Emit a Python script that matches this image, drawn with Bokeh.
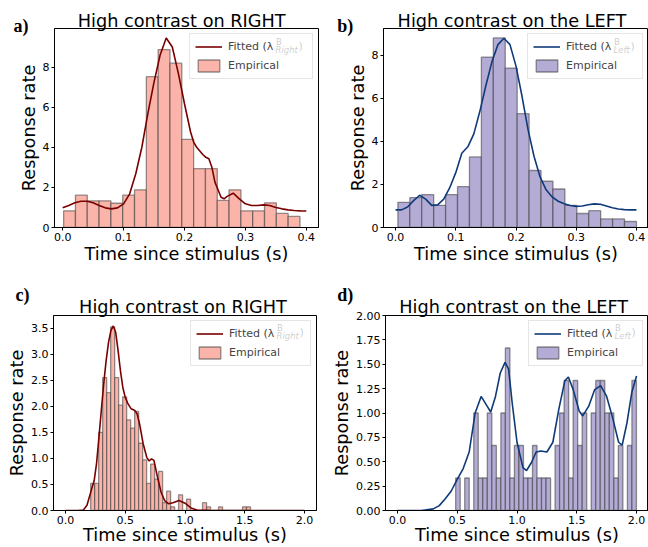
import numpy as np
from bokeh.plotting import figure
from bokeh.layouts import column, row
from bokeh.models import Legend, LegendItem, Label, FixedTicker, Range1d
from bokeh.embed import file_html
from bokeh.resources import INLINE

# ---------------- data ----------------
titles = ["High contrast on RIGHT", "High contrast on the LEFT",
          "High contrast on RIGHT", "High contrast on the LEFT"]
panel_letters = ["a)", "b)", "c)", "d)"]
fit_subscripts = ["Right", "Left", "Right", "Left"]

# panel a
a_bin_range = (0.0016, 0.3896)
a_rates = [0.83, 1.61, 1.33, 1.33, 1.21, 1.61, 1.88, 7.52, 8.87, 8.19,
           4.39, 2.93, 2.93, 1.35, 1.88, 0.83, 0.83, 1.23, 0.70, 0.55]
a_fit_t = [0.0, 0.01, 0.02, 0.03, 0.04, 0.05, 0.06, 0.07, 0.08, 0.09, 0.10,
           0.11, 0.12, 0.13, 0.14, 0.15, 0.16, 0.17, 0.18, 0.19, 0.20, 0.21,
           0.215, 0.22, 0.23, 0.235, 0.24, 0.245, 0.25, 0.26, 0.265, 0.27,
           0.28, 0.29, 0.30, 0.31, 0.32, 0.33, 0.34, 0.35, 0.36, 0.37, 0.38,
           0.39, 0.40]
a_fit_rate = [0.98, 1.10, 1.23, 1.31, 1.31, 1.23, 1.10, 0.98, 0.93, 0.98, 1.18,
              1.68, 2.68, 4.00, 5.70, 7.25, 8.60, 9.45, 9.00, 7.67, 6.17, 4.76,
              4.26, 4.00, 3.64, 3.50, 3.43, 3.00, 2.26, 1.51, 1.43, 1.55,
              1.71, 1.43, 1.18, 1.10, 1.10, 1.13, 1.10, 1.00, 0.93, 0.88, 0.85,
              0.83, 0.82]

# panel b
b_bin_range = (0.0039, 0.40)
b_rates = [1.17, 1.39, 1.53, 1.03, 1.53, 1.90, 3.28, 7.92, 8.81, 7.41,
           5.29, 2.65, 2.15, 1.79, 1.03, 0.65, 0.78, 0.40, 0.40, 0.28]
b_fit_t = [0.0, 0.01, 0.02, 0.03, 0.04, 0.05, 0.06, 0.07, 0.08, 0.09, 0.10,
           0.11, 0.12, 0.13, 0.14, 0.15, 0.16, 0.17, 0.18, 0.19, 0.20, 0.21,
           0.22, 0.23, 0.24, 0.25, 0.26, 0.27, 0.28, 0.29, 0.30, 0.31, 0.32,
           0.33, 0.34, 0.35, 0.36, 0.37, 0.38, 0.39, 0.40]
b_fit_rate = [0.82, 0.82, 0.95, 1.25, 1.50, 1.32, 1.03, 1.05, 1.32, 1.85, 2.55,
              3.45, 3.75, 4.35, 5.40, 6.60, 7.70, 8.50, 8.80, 8.50, 7.50, 6.10,
              4.55, 3.30, 2.35, 1.75, 1.42, 1.22, 1.10, 1.02, 0.98, 1.00, 1.06,
              1.10, 1.08, 1.00, 0.92, 0.86, 0.83, 0.82, 0.82]

# panel c
c_bin_range = (0.211, 1.548)
c_rates = [0.52, 0.52, 1.50, 2.55, 2.26, 3.52, 2.55, 2.02, 2.18, 1.74,
           1.58, 1.90, 1.29, 0.97, 0.52, 0.89, 0.60, 0.75, 0.15, 0.37,
           0.07, 0.00, 0.30, 0.00, 0.22, 0.00, 0.00, 0.00, 0.15, 0.07,
           0.00, 0.00, 0.07, 0.00, 0.00, 0.00, 0.00, 0.00, 0.07, 0.07]
c_fit_t = [0.0, 0.10, 0.15, 0.18, 0.20, 0.22, 0.24, 0.26, 0.28, 0.30, 0.32,
           0.34, 0.36, 0.38, 0.40, 0.42, 0.44, 0.46, 0.48, 0.50, 0.52, 0.55,
           0.58, 0.60, 0.62, 0.65, 0.68, 0.70, 0.72, 0.74, 0.77, 0.80, 0.83,
           0.86, 0.90, 0.95, 1.00, 1.05, 1.10, 1.20, 1.40, 1.60, 1.80, 2.00]
c_fit_rate = [0.0, 0.0, 0.01, 0.10, 0.26, 0.42, 0.57, 0.90, 1.40, 1.92, 2.43,
              2.87, 3.22, 3.45, 3.54, 3.42, 3.07, 2.68, 2.36, 2.17, 2.06, 1.95,
              1.92, 1.85, 1.66, 1.28, 1.02, 0.95, 0.99, 0.96, 0.64, 0.35, 0.19,
              0.13, 0.15, 0.19, 0.14, 0.05, 0.01, 0.005, 0.0, 0.0, 0.0, 0.0]

# panel d
d_bin_range = (0.487, 1.999)
d_rates = [1/3, 0, 1/3, 0, 1.0, 1/3, 1/3, 1.0, 2/3, 1/3,
           1.0, 5/3, 1/3, 2/3, 2/3, 1/3, 1/3, 2/3, 1/3, 1/3,
           1/3, 0, 2/3, 1.0, 4/3, 1/3, 4/3, 2/3, 1.0, 0,
           1.0, 4/3, 4/3, 1.0, 1.0, 1/3, 2/3, 0, 2/3, 4/3]
d_fit_t = [0.0, 0.20, 0.30, 0.35, 0.40, 0.45, 0.50, 0.55, 0.60, 0.65, 0.70,
           0.75, 0.78, 0.82, 0.86, 0.90, 0.93, 0.96, 1.00, 1.05, 1.08, 1.12,
           1.16, 1.20, 1.25, 1.30, 1.35, 1.40, 1.43, 1.47, 1.52, 1.55, 1.60,
           1.65, 1.70, 1.75, 1.80, 1.85, 1.88, 1.92, 1.96, 2.00]
d_fit_rate = [0.0, 0.0, 0.017, 0.05, 0.12, 0.20, 0.32, 0.43, 0.60, 1.00, 1.17,
              1.07, 1.01, 1.17, 1.41, 1.52, 1.45, 1.10, 0.70, 0.44, 0.41, 0.49,
              0.60, 0.61, 0.60, 0.70, 1.04, 1.33, 1.37, 1.24, 1.02, 0.97, 1.07,
              1.24, 1.28, 1.17, 0.95, 0.70, 0.67, 0.90, 1.21, 1.38]

# axis ticks and labels
x_ticks_short = [0.0, 0.1, 0.2, 0.3, 0.4]
x_labels_short = ["0.0", "0.1", "0.2", "0.3", "0.4"]
x_ticks_long = [0.0, 0.5, 1.0, 1.5, 2.0]
x_labels_long = ["0.0", "0.5", "1.0", "1.5", "2.0"]
y_ticks_ab = [0, 2, 4, 6, 8]
y_labels_ab = ["0", "2", "4", "6", "8"]
y_ticks_c = [0.0, 0.5, 1.0, 1.5, 2.0, 2.5, 3.0, 3.5]
y_labels_c = ["0.0", "0.5", "1.0", "1.5", "2.0", "2.5", "3.0", "3.5"]
y_ticks_d = [0.0, 0.25, 0.5, 0.75, 1.0, 1.25, 1.5, 1.75, 2.0]
y_labels_d = ["0.00", "0.25", "0.50", "0.75", "1.00", "1.25", "1.50", "1.75", "2.00"]

x_label = "Time since stimulus (s)"
y_label = "Response rate"

# ---------------- styling ----------------
RED_FILL = "#fbb4a9"
RED_LINE = "#7a0000"
BLUE_FILL = "#b4acd5"
BLUE_LINE = "#0f3a78"
FONT = "DejaVu Sans"


def make_panel(idx, bin_range, rates, fit_t, fit_rate, xr, yr, xt, xl, yt, yl,
               fill, curve, size, borders, fw, fh, label_w, title_pos,
               letter_pos, letter_side, xlabel_standoff):
    W, H = size
    bl, br, bt, bb = borders
    p = figure(width=W, height=H, min_border_left=bl,
               min_border_right=br, min_border_top=bt, min_border_bottom=bb,
               x_range=Range1d(*xr), y_range=Range1d(*yr),
               output_backend="svg", toolbar_location=None)

    edges = np.linspace(bin_range[0], bin_range[1], len(rates) + 1)
    r_hist = p.quad(left=edges[:-1], right=edges[1:], top=rates, bottom=0,
                    fill_color=fill, fill_alpha=1.0, line_color="#3c3c3c",
                    line_alpha=0.55, line_width=1.3)
    r_fit = p.line(fit_t, fit_rate, line_color=curve, line_width=1.6)

    p.xgrid.visible = False
    p.ygrid.visible = False
    p.outline_line_color = "black"
    p.outline_line_width = 1
    p.outline_line_alpha = 1

    for ax, ticks, labels in ((p.xaxis[0], xt, xl), (p.yaxis[0], yt, yl)):
        ax.ticker = FixedTicker(ticks=ticks)
        ax.major_label_overrides = {t: s for t, s in zip(ticks, labels)}
        ax.minor_tick_line_color = None
        ax.major_tick_in = 0
        ax.major_tick_out = 3
        ax.major_tick_line_color = "black"
        ax.axis_line_color = "black"
        ax.major_label_text_font = FONT
        ax.major_label_text_font_size = "11px"
        ax.major_label_text_color = "black"
        ax.major_label_standoff = 2
        ax.axis_label_text_font = FONT
        ax.axis_label_text_font_size = "17.7px"
        ax.axis_label_text_font_style = "normal"
        ax.axis_label_text_color = "black"
    p.xaxis.axis_label = x_label
    p.yaxis.axis_label = y_label
    p.xaxis.axis_label_standoff = xlabel_standoff
    p.yaxis.axis_label_standoff = 1

    # title (side-panel label, absolute canvas position)
    p.add_layout(Label(x=title_pos[0], y=title_pos[1], x_units="canvas",
                       y_units="canvas", text=titles[idx], text_font=FONT,
                       text_font_size="17.7px", text_align="center",
                       text_baseline="alphabetic", text_color="black"), "above")
    # panel letter
    p.add_layout(Label(x=letter_pos[0], y=letter_pos[1], x_units="canvas",
                       y_units="canvas", text=panel_letters[idx],
                       text_font="Liberation Serif", text_font_style="bold",
                       text_font_size="18px", text_baseline="alphabetic",
                       text_color="black"), letter_side)

    # legend
    margin, pad, gw, gh, lh, stand, spacing = 5, 5, 27, 15, 15, 6, 4
    leg = Legend(items=[LegendItem(label="Fitted (λ", renderers=[r_fit]),
                        LegendItem(label="Empirical", renderers=[r_hist])],
                 location="top_right", margin=margin, padding=pad,
                 spacing=spacing, glyph_width=gw, glyph_height=gh,
                 label_height=lh, label_width=label_w, label_standoff=stand,
                 label_text_font=FONT, label_text_font_size="11px",
                 border_line_color="#cccccc", border_line_width=1,
                 background_fill_color="white", background_fill_alpha=0.8,
                 level="annotation")
    p.add_layout(leg)

    # super/subscript of the fitted label (frame-relative screen units)
    leg_w = 2 * pad + gw + stand + label_w
    text_x = (fw - margin) - leg_w + pad + gw + stand
    row_y = fh - (margin + pad + lh / 2)
    w_fit = 46
    sub = fit_subscripts[idx]
    sub_w = 22 if sub == "Right" else 16
    p.add_layout(Label(x=text_x + w_fit + 0.5, y=row_y + 4, x_units="screen",
                       y_units="screen", text="B", text_font=FONT,
                       text_font_size="8.5px", text_baseline="middle",
                       text_color="black", level="overlay"))
    p.add_layout(Label(x=text_x + w_fit, y=row_y - 3.5, x_units="screen",
                       y_units="screen", text=sub, text_font=FONT,
                       text_font_size="8.5px", text_baseline="middle",
                       text_font_style="italic", text_color="black",
                       level="overlay"))
    p.add_layout(Label(x=text_x + w_fit + sub_w + 1, y=row_y, x_units="screen",
                       y_units="screen", text=")", text_font=FONT,
                       text_font_size="11px", text_baseline="middle",
                       text_color="black", level="overlay"))
    return p


# row 1: 267 px tall; row 2: 280 px tall (starts at y = 267)
pa = make_panel(0, a_bin_range, a_rates, a_fit_t, a_fit_rate,
                (-0.0134, 0.42), (0, 9.92), x_ticks_short, x_labels_short,
                y_ticks_ab, y_labels_ab, RED_FILL, RED_LINE,
                (324, 267), (50, 6, 28, 40), 264, 199, 79,
                (181.2, 20), (13, 25.5), "left", 0)
pb = make_panel(1, b_bin_range, b_rates, b_fit_t, b_fit_rate,
                (-0.02, 0.42), (0, 9.25), x_ticks_short, x_labels_short,
                y_ticks_ab, y_labels_ab, BLUE_FILL, BLUE_LINE,
                (324, 267), (59, 0, 28, 40), 265, 199, 71,
                (187.5, 20), (12.7, 25.7), "left", 0)
pc = make_panel(2, c_bin_range, c_rates, c_fit_t, c_fit_rate,
                (-0.1, 2.1), (0, 3.74), x_ticks_long, x_labels_long,
                y_ticks_c, y_labels_c, RED_FILL, RED_LINE,
                (324, 280), (53, 8, 48, 36), 263, 196, 76,
                (182.5, 39.7), (15, 27.7), "above", -2)
pd_ = make_panel(3, d_bin_range, d_rates, d_fit_t, d_fit_rate,
                 (-0.1, 2.1), (0, 2.0), x_ticks_long, x_labels_long,
                 y_ticks_d, y_labels_d, BLUE_FILL, BLUE_LINE,
                 (324, 280), (61, 0, 48, 36), 263, 196, 70,
                 (189.2, 39.7), (12.7, 27.7), "above", -2)

layout = column(row(pa, pb), row(pc, pd_))
open("out.html", "w").write(file_html(layout, INLINE))
